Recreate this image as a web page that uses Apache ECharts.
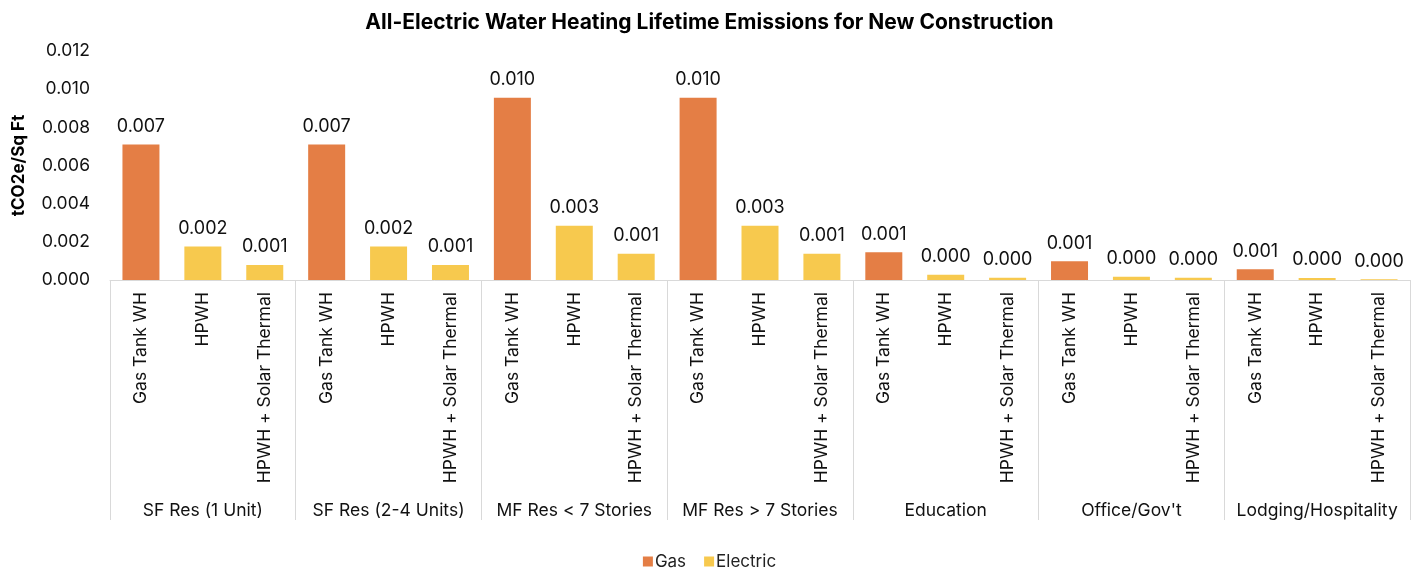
<!DOCTYPE html>
<html>
<head>
<meta charset="utf-8">
<script src="https://cdn.jsdelivr.net/npm/echarts@6/dist/echarts.min.js"></script>
<style>
  html, body { margin: 0; padding: 0; background: #fff; }
  #chart { width: 1419px; height: 571px; }
</style>
</head>
<body>
<div id="chart"></div>
<script>
// building types (outer axis groups)
const groups = ['SF Res (1 Unit)', 'SF Res (2-4 Units)', 'MF Res < 7 Stories', 'MF Res > 7 Stories',
                'Education', "Office/Gov't", 'Lodging/Hospitality'];
// systems inside each group
const systems = ['Gas Tank WH', 'HPWH', 'HPWH + Solar Thermal'];

// tCO2e / sq ft, one value per group
const gasTank = [0.0071, 0.0071, 0.00955, 0.00955, 0.00146, 0.00098, 0.00056];
const hpwh = [0.00175, 0.00175, 0.00284, 0.00284, 0.00028, 0.00017, 0.0001];
const hpwhSolar = [0.00079, 0.00079, 0.00137, 0.00137, 0.00012, 0.00012, 0.00004];

const yTicks = { min: 0, max: 0.012, interval: 0.002 };

const FONT = 'Inter';
const GAS = '#E47E45';
const ELEC = '#F7C94E';

// flatten to 21 categories
const categories = [];
const gasData = [];
const elecData = [];
groups.forEach((g, i) => {
    systems.forEach((s, j) => {
        categories.push(s);
        if (j === 0) {
            gasData.push(gasTank[i]);
            elecData.push('-');
        } else {
            gasData.push('-');
            elecData.push(j === 1 ? hpwh[i] : hpwhSolar[i]);
        }
    });
});

const labelOpt = {
    show: true,
    position: 'top',
    distance: 9,
    fontFamily: FONT,
    fontSize: 18,
    color: '#111',
    formatter: p => p.value.toFixed(3)
};

const chart = echarts.init(document.getElementById('chart'));
chart.setOption({
    animation: false,
    textStyle: { fontFamily: FONT },
    title: {
        text: 'All-Electric Water Heating Lifetime Emissions for New Construction',
        left: 'center',
        top: 7,
        textStyle: { fontFamily: FONT, fontSize: 21, fontWeight: 'bold', color: '#000' }
    },
    legend: {
        bottom: -4,
        left: 'center',
        itemWidth: 10,
        itemHeight: 10,
        itemGap: 18,
        icon: 'rect',
        textStyle: { fontFamily: FONT, fontSize: 17, color: '#222', padding: [0, 0, 0, -3] },
        data: ['Gas', 'Electric']
    },
    grid: { left: 110, right: 9, top: 51, bottom: 291 },
    xAxis: [
        {
            type: 'category',
            data: categories,
            axisLine: { lineStyle: { color: '#d9d9d9' } },
            axisTick: { show: false },
            axisLabel: {
                rotate: 90,
                interval: 0,
                margin: 12,
                fontFamily: FONT,
                fontSize: 17.5,
                color: '#111'
            }
        },
        {
            type: 'category',
            data: groups,
            position: 'bottom',
            axisLine: { show: false },
            axisTick: { show: true, alignWithLabel: false, length: 240, lineStyle: { color: '#d9d9d9' } },
            axisLabel: {
                interval: 0,
                margin: 222,
                fontFamily: FONT,
                fontSize: 17.5,
                color: '#111'
            }
        }
    ],
    yAxis: {
        type: 'value',
        min: yTicks.min,
        max: yTicks.max,
        interval: yTicks.interval,
        name: 'tCO2e/Sq Ft',
        nameLocation: 'middle',
        nameGap: 83,
        nameTextStyle: { fontFamily: FONT, fontSize: 17, fontWeight: 'bold', color: '#000' },
        axisLine: { show: false },
        axisTick: { show: false },
        splitLine: { show: false },
        axisLabel: {
            margin: 20,
            fontFamily: FONT,
            fontSize: 17.5,
            color: '#111',
            formatter: v => v.toFixed(3)
        }
    },
    series: [
        {
            name: 'Gas',
            type: 'bar',
            stack: 'all',
            barWidth: 37,
            data: gasData,
            itemStyle: { color: GAS },
            label: labelOpt
        },
        {
            name: 'Electric',
            type: 'bar',
            stack: 'all',
            barWidth: 37,
            data: elecData,
            itemStyle: { color: ELEC },
            label: labelOpt
        }
    ]
});
</script>
</body>
</html>
